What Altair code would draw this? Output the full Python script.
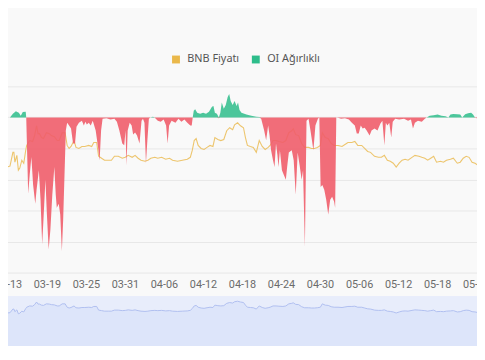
import altair as alt
import pandas as pd

# ---------------- data ----------------
series_names = ["BNB Fiyatı", "OI Ağırlıklı"]
series_colors = ["#eab84a", "#2ebd8b"]
tick_dates = ["2025-03-13", "2025-03-19", "2025-03-25", "2025-03-31", "2025-04-06",
              "2025-04-12", "2025-04-18", "2025-04-24", "2025-04-30", "2025-05-06",
              "2025-05-12", "2025-05-18", "2025-05-24"]

# OI-weighted funding rate: time in days after 2025-03-13 00:00, value in 0.01 % units
oi_days = [
    -1.50, -1.20, -0.59, -0.14, 0.32, 0.77, 1.23, 1.68, 1.98, 2.29,
    2.74, 2.82, 3.12, 3.35, 3.61, 3.88, 4.21, 4.41, 4.76, 5.02,
    5.27, 5.47, 5.77, 6.00, 6.27, 6.53, 6.83, 7.14, 7.36, 7.52,
    7.82, 8.05, 8.30, 8.50, 8.91, 9.11, 9.41, 9.71, 10.02, 10.32,
    10.55, 10.92, 11.38, 11.68, 11.91, 12.14, 12.44, 12.74, 13.05, 13.50,
    13.88, 14.11, 14.33, 14.56, 15.17, 15.77, 16.38, 16.76, 17.14, 17.59,
    17.89, 18.09, 18.24, 18.42, 18.73, 19.03, 19.26, 19.56, 19.86, 20.24,
    20.55, 20.77, 21.00, 21.23, 21.45, 21.68, 21.91, 22.29, 22.59, 23.05,
    23.50, 23.95, 24.33, 24.56, 24.79, 25.17, 25.77, 26.23, 26.68, 27.14,
    27.59, 28.05, 28.27, 28.42, 28.58, 28.80, 29.11, 29.56, 30.02, 30.47,
    30.92, 31.38, 31.61, 31.83, 32.14, 32.44, 32.67, 32.89, 33.20, 33.50,
    33.80, 34.03, 34.26, 34.56, 34.86, 35.17, 35.39, 35.62, 35.92, 36.68,
    37.44, 38.20, 38.65, 38.95, 39.41, 39.71, 40.02, 40.24, 40.47, 40.77,
    41.00, 41.23, 41.45, 41.61, 41.83, 42.14, 42.44, 42.74, 42.97, 43.20,
    43.65, 43.95, 44.26, 44.56, 44.86, 45.17, 45.39, 45.67, 45.92, 46.23,
    46.53, 46.98, 47.29, 47.67, 47.89, 48.09, 48.35, 48.65, 48.95, 49.26,
    49.56, 49.86, 50.17, 50.32, 50.50, 50.77, 51.23, 51.83, 52.44, 52.89,
    53.35, 53.65, 53.95, 54.26, 54.56, 54.86, 55.17, 55.62, 55.92, 56.38,
    56.83, 57.29, 57.59, 57.89, 58.12, 58.35, 58.65, 58.95, 59.18, 59.56,
    60.17, 60.92, 61.53, 61.98, 62.29, 62.59, 63.05, 63.65, 64.11, 64.41,
    64.86, 65.47, 66.08, 66.68, 67.29, 67.74, 68.05, 68.50, 69.11, 69.56,
    69.86, 70.32, 70.77, 71.23, 71.53, 71.83, 72.44,
]
oi_rate = [
    -0.04, -0.16, -0.14, -0.01, 0, 0.12, 0.20, 0.15, 0.05, 0.17,
    0.18, 0, -2.46, -1.86, -1.28, -2.18, -2.78, -2.33, -1.70, -2.65,
    -4.09, -3.29, -2.01, -3.13, -4.25, -3.63, -2.49, -1.60, -2.49, -2.91,
    -2.78, -3.13, -4.31, -3.29, -0.42, -0.17, -0.26, -0.36, -0.84, -0.84,
    -0.30, -0.17, -0.11, -0.26, -0.14, -0.23, -0.17, -0.26, -0.11, -0.42,
    -0.99, -1.38, -0.42, -0.04, -0.03, -0.07, -0.04, -0.14, -0.42, -0.84,
    -0.90, -0.42, -1.54, -0.42, -0.17, -0.26, -0.55, -0.49, -0.58, -0.84,
    -0.11, -0.04, -0.17, -1.47, -0.74, -0.04, 0, 0.02, -0.01, -0.11,
    -0.14, -0.07, -0.26, -0.84, -0.26, -0.11, -0.17, -0.04, -0.14, -0.07,
    -0.17, -0.26, -0.26, 0, 0.21, 0.26, 0.15, 0.12, 0.15, 0.12,
    0.18, 0.34, 0.37, 0.15, 0.12, -0.03, 0.15, 0.48, 0.28, 0.40,
    0.66, 0.75, 0.53, 0.40, 0.53, 0.37, 0.48, 0.24, 0.15, 0.09,
    0.05, 0.02, 0.01, -0.04, -0.42, -0.74, -0.26, -0.58, -1.06, -1.38,
    -1.60, -0.84, -1.22, -1.60, -1.06, -1.70, -1.86, -2.01, -1.54, -1.13,
    -1.06, -1.38, -2.49, -1.13, -1.54, -2.01, -1.70, -4.16, -0.11, -0.04,
    -0.42, -1.06, -0.26, -0.04, 0, -2.24, -2.18, -2.33, -2.65, -3.13,
    -2.65, -2.56, -2.72, -2.91, 0, -0.01, -0.04, -0.03, -0.07, -0.17,
    -0.26, -0.52, -0.52, -0.26, -0.36, -0.33, -0.42, -0.58, -0.42, -0.36,
    -0.42, -0.20, -0.11, -0.90, -0.17, -0.26, -0.17, -0.65, -0.14, -0.04,
    -0.07, -0.04, -0.11, -0.07, -0.36, -0.17, -0.11, -0.14, -0.04, 0,
    0.05, 0.07, 0.09, 0.05, 0.04, 0, 0.09, 0.11, 0.10, 0.09,
    0, 0.10, 0.13, 0.15, 0.09, -0.01, -0.04,
]

# BNB price (USD): time in days after 2025-03-13 00:00
price_days = [
    -1.50, -1.05, -0.74, -0.44, -0.14, 0.32, 0.77, 0.92, 1.08, 1.38,
    1.61, 1.83, 2.14, 2.44, 2.74, 2.89, 3.35, 3.80, 4.11, 4.41,
    4.64, 4.86, 5.17, 5.47, 5.92, 6.38, 6.68, 7.14, 7.59, 7.89,
    8.35, 8.80, 9.11, 9.41, 9.71, 10.17, 10.47, 10.92, 11.38, 11.83,
    12.44, 12.89, 13.20, 13.65, 13.95, 14.41, 14.86, 15.47, 15.92, 16.38,
    16.98, 17.59, 18.05, 18.50, 19.11, 19.56, 20.02, 20.47, 21.08, 21.53,
    21.98, 22.59, 23.05, 23.65, 24.26, 24.86, 25.32, 26.08, 26.83, 27.59,
    28.05, 28.35, 28.65, 28.95, 29.26, 29.71, 30.17, 30.62, 31.08, 31.53,
    31.83, 32.29, 32.74, 33.20, 33.65, 34.11, 34.56, 34.86, 35.32, 35.77,
    36.23, 36.53, 36.83, 37.29, 37.74, 38.20, 38.65, 39.11, 39.56, 40.02,
    40.32, 40.77, 41.23, 41.68, 42.29, 42.74, 43.20, 43.65, 43.88, 44.26,
    44.71, 45.17, 45.62, 46.23, 46.68, 47.14, 47.59, 48.05, 48.35, 48.80,
    49.26, 49.71, 50.17, 50.77, 51.38, 51.83, 52.29, 52.89, 53.35, 53.80,
    54.41, 54.86, 55.32, 55.77, 56.38, 56.98, 57.44, 57.89, 58.35, 58.80,
    59.26, 59.71, 60.17, 60.62, 61.08, 61.53, 62.14, 62.59, 63.20, 63.65,
    64.11, 64.56, 65.02, 65.47, 65.92, 66.53, 66.98, 67.44, 68.05, 68.50,
    69.11, 69.56, 70.02, 70.47, 70.92, 71.38, 71.83, 72.44,
]
price_usd = [
    553.3, 553.3, 554.3, 569.5, 581.9, 582.9, 596.2, 596.2, 586.7, 593.3,
    579.0, 581.0, 588.6, 585.7, 598.1, 602.9, 607.6, 606.7, 612.4, 621.9,
    614.3, 614.3, 610.5, 609.5, 615.2, 614.3, 612.4, 611.4, 607.6, 607.6,
    615.2, 615.2, 602.9, 600.0, 601.9, 607.6, 601.0, 600.0, 601.9, 601.9,
    602.9, 601.9, 605.7, 605.7, 592.4, 590.5, 588.6, 588.6, 588.6, 592.4,
    592.4, 590.5, 591.4, 593.3, 591.4, 593.3, 590.5, 588.6, 587.6, 588.6,
    590.5, 591.4, 590.5, 591.4, 589.5, 590.5, 588.6, 587.6, 588.6, 589.5,
    591.4, 598.1, 607.6, 609.5, 602.9, 600.0, 599.0, 601.0, 602.9, 601.9,
    610.5, 608.6, 607.6, 608.6, 617.1, 620.0, 618.1, 622.9, 624.8, 621.9,
    620.0, 610.5, 602.9, 601.9, 601.0, 596.2, 607.6, 601.9, 599.0, 601.0,
    602.9, 607.6, 607.6, 606.7, 605.7, 607.6, 615.2, 617.1, 619.0, 613.3,
    612.4, 604.8, 601.0, 601.0, 600.0, 600.0, 601.0, 602.9, 615.2, 610.5,
    609.5, 604.8, 602.9, 602.9, 601.9, 603.8, 605.7, 605.7, 606.7, 602.9,
    602.9, 600.0, 597.1, 596.2, 592.4, 591.4, 591.4, 593.3, 588.6, 587.6,
    585.7, 581.9, 585.7, 588.6, 589.5, 588.6, 591.4, 593.3, 592.4, 591.4,
    590.5, 588.6, 590.5, 592.4, 586.7, 587.6, 586.7, 588.6, 589.5, 590.5,
    585.7, 586.7, 590.5, 592.4, 591.4, 586.7, 585.7, 582.9,
]

# ---------------- tables ----------------
base = pd.Timestamp("2025-03-13")
oi = pd.DataFrame({"t": base + pd.to_timedelta(oi_days, unit="D"), "v": oi_rate})
oi["pos"] = oi["v"].clip(lower=0)
oi["neg"] = oi["v"].clip(upper=0)
oi["series"] = series_names[1]
px = pd.DataFrame({"t": base + pd.to_timedelta(price_days, unit="D"), "p": price_usd})
px["series"] = series_names[0]


def dt(s, h=0, m=0):
    d = pd.Timestamp(s)
    return alt.DateTime(year=d.year, month=d.month, date=d.day, hours=h, minutes=m)


x_domain = [dt("2025-03-11", 19, 18), dt("2025-05-24", 6, 55)]
x_axis = alt.Axis(values=[dt(s) for s in tick_dates], format="%m-%d", title=None,
                  labelFont="Roboto", labelFontSize=11, labelColor="#6b6b6b",
                  ticks=False, domain=False, grid=False, labelPadding=6,
                  offset=-76, labelOverlap=False, labelFlush=False)
X = alt.X("t:T", scale=alt.Scale(domain=x_domain), axis=x_axis)

fund_scale = alt.Scale(domain=[-5, 1], range=[189, 0], nice=False, zero=False)
price_scale = alt.Scale(domain=[480, 660], range=[189, 0], nice=False, zero=False)
nav_scale = alt.Scale(domain=[460, 643], range=[264, 213], nice=False, zero=False)
color_scale = alt.Scale(domain=series_names, range=series_colors)

legend = alt.Legend(orient="none", legendX=173, legendY=-33, direction="horizontal",
                    title=None, symbolType="square", symbolSize=64, symbolOpacity=1,
                    symbolStrokeWidth=0, labelFont="Noto Sans", labelFontSize=11,
                    labelColor="#555555", columnPadding=11, labelOffset=6, padding=0)

nav_band = alt.Chart(px).mark_rect(color="#e8edfb").encode(
    x=alt.value(0), x2=alt.value(485),
    y=alt.YDatum(643, type="quantitative", scale=nav_scale, axis=None),
    y2=alt.Y2Datum(460),
)

nav_area = alt.Chart(px).mark_area(color="#d8e1fa", line={"color": "#b0bff0", "strokeWidth": 1}).encode(
    x=X,
    y=alt.Y("p:Q", scale=nav_scale, axis=None),
    y2=alt.Y2Datum(460),
)

price_line = alt.Chart(px).mark_line(strokeWidth=1.1, opacity=0.8).encode(
    x=X,
    y=alt.Y("p:Q", scale=price_scale, axis=None),
    color=alt.Color("series:N", scale=color_scale, legend=legend),
)

red_area = alt.Chart(oi).mark_area(color="#f05d6a", opacity=0.9).encode(
    x=X,
    y=alt.Y("neg:Q", scale=fund_scale,
            axis=alt.Axis(values=[-5, -4, -3, -2, -1, 0, 1], grid=True, labels=False,
                          ticks=False, domain=False, title=None,
                          gridColor="#e8e8e8", gridWidth=1)),
)

green_area = alt.Chart(oi).mark_area(opacity=0.85).encode(
    x=X,
    y=alt.Y("pos:Q", scale=fund_scale, axis=None),
    color=alt.Color("series:N", scale=color_scale, legend=legend),
)

chart = alt.layer(nav_band, nav_area, price_line, red_area, green_area).resolve_scale(
    y="independent"
).properties(
    width=485, height=265,
    padding={"left": -8, "top": 77, "right": -1, "bottom": -4},
    autosize=alt.AutoSizeParams(type="none"),
    background="#f9f9f9",
).configure_view(strokeWidth=0)

chart.save("out.html", embed_options={"renderer": "svg", "actions": False})
